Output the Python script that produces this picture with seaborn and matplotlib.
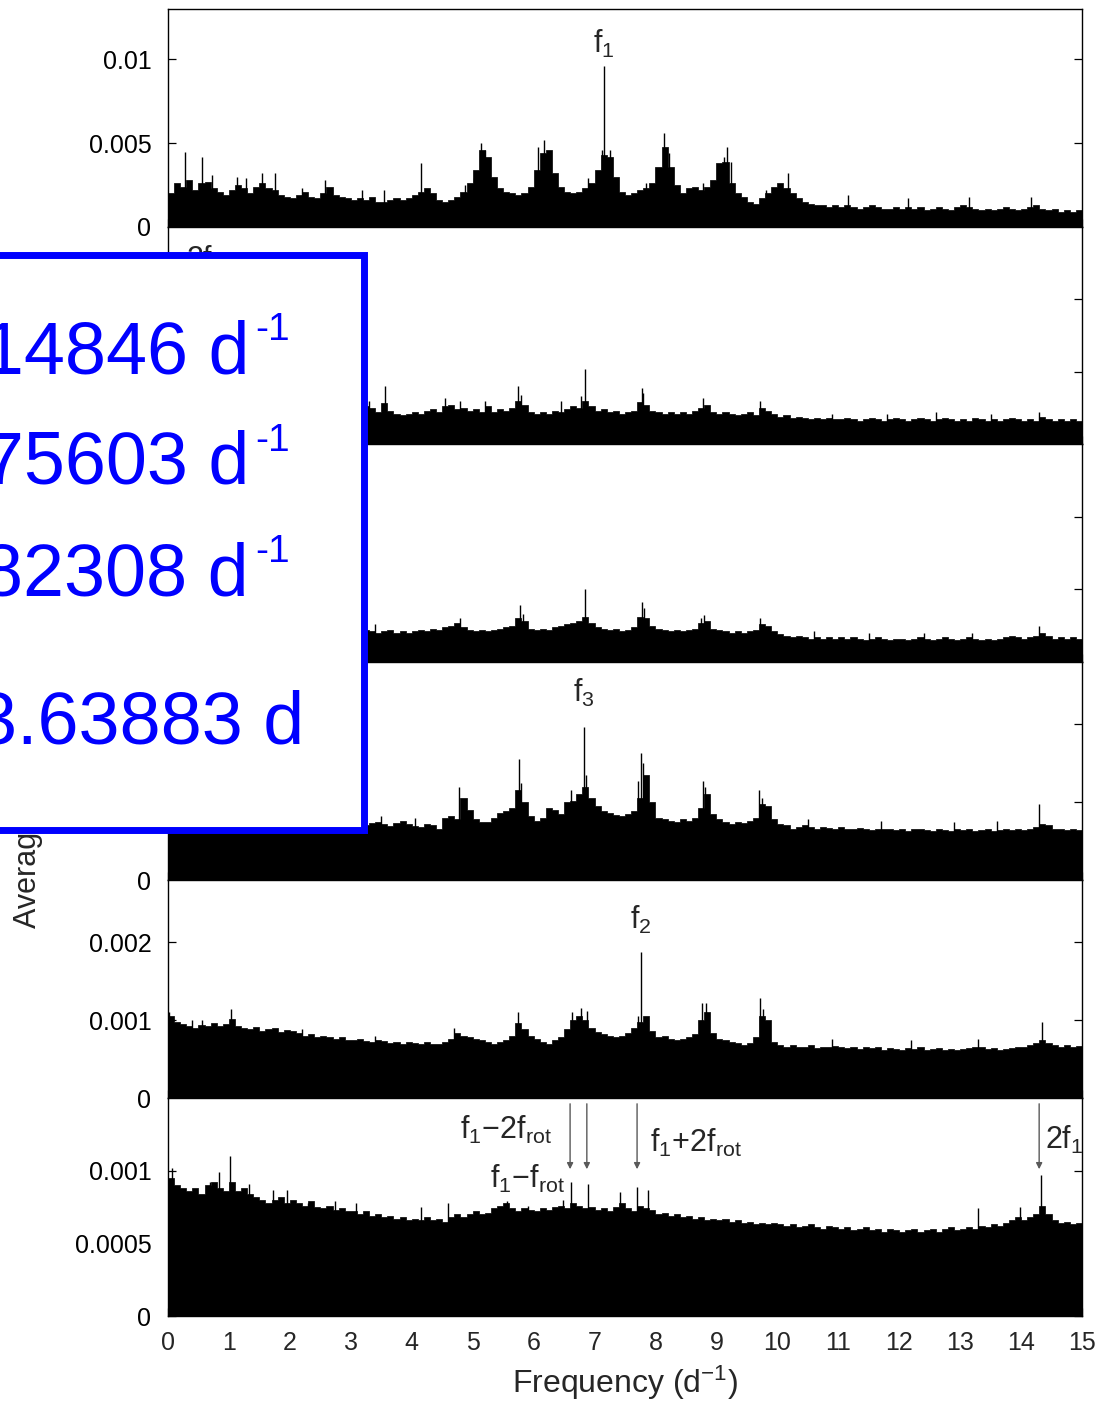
import numpy as np
import pandas as pd
import matplotlib
matplotlib.use("Agg")
import matplotlib.pyplot as plt
from matplotlib.patches import Rectangle
from matplotlib.ticker import FixedLocator, FixedFormatter
import seaborn as sns

# ---------------------------------------------------------------------------
# Spectra: amplitude per 0.1 d^-1 frequency bin (units of 1e-3), six panels
# ---------------------------------------------------------------------------
amp_p1 = [
    2.0, 2.6, 2.4, 2.8, 2.2, 2.6, 2.7, 2.3, 2.1, 1.9,
    2.2, 2.5, 2.3, 2.0, 2.4, 2.6, 2.3, 2.2, 1.9, 1.8,
    1.7, 1.9, 2.1, 1.8, 1.7, 2.0, 2.4, 1.9, 1.8, 1.7,
    1.6, 1.7, 1.6, 1.8, 1.5, 1.5, 1.6, 1.7, 1.6, 1.7,
    1.9, 2.1, 2.3, 2.0, 1.6, 1.5, 1.6, 1.8, 2.1, 2.6,
    3.4, 4.6, 4.2, 3.0, 2.3, 2.1, 2.0, 1.9, 2.0, 2.4,
    3.4, 4.4, 4.6, 3.2, 2.4, 2.1, 2.0, 2.1, 2.3, 2.6,
    3.4, 4.3, 4.2, 3.0, 2.1, 1.9, 2.0, 2.2, 2.3, 2.6,
    3.6, 4.8, 3.6, 2.5, 2.0, 2.3, 2.4, 2.2, 2.4, 2.8,
    3.8, 3.9, 2.6, 2.0, 1.8, 1.5, 1.4, 1.7, 2.0, 2.4,
    2.6, 2.3, 2.0, 1.7, 1.5, 1.4, 1.3, 1.3, 1.2, 1.3,
    1.2, 1.3, 1.2, 1.1, 1.2, 1.3, 1.2, 1.1, 1.1, 1.2,
    1.1, 1.2, 1.1, 1.2, 1.0, 1.1, 1.2, 1.1, 1.0, 1.2,
    1.3, 1.2, 1.1, 1.0, 1.1, 1.0, 1.1, 1.2, 1.1, 1.0,
    1.1, 1.2, 1.3, 1.1, 1.0, 1.1, 0.9, 1.0, 0.9, 1.0,
]
amp_p2 = [
    0.30, 0.27, 0.26, 0.25, 0.27, 0.25, 0.26, 0.24, 0.25, 0.26,
    0.25, 0.24, 0.26, 0.25, 0.24, 0.23, 0.25, 0.24, 0.23, 0.24,
    0.24, 0.23, 0.25, 0.24, 0.23, 0.22, 0.24, 0.23, 0.22, 0.23,
    0.23, 0.24, 0.26, 0.25, 0.22, 0.28, 0.23, 0.21, 0.20, 0.21,
    0.22, 0.21, 0.23, 0.24, 0.22, 0.26, 0.27, 0.24, 0.25, 0.23,
    0.24, 0.22, 0.26, 0.22, 0.24, 0.23, 0.25, 0.30, 0.27, 0.22,
    0.21, 0.22, 0.21, 0.23, 0.22, 0.24, 0.26, 0.25, 0.30, 0.26,
    0.23, 0.24, 0.22, 0.23, 0.21, 0.22, 0.23, 0.29, 0.27, 0.23,
    0.22, 0.21, 0.22, 0.21, 0.22, 0.21, 0.23, 0.25, 0.27, 0.22,
    0.21, 0.22, 0.21, 0.20, 0.21, 0.22, 0.20, 0.25, 0.23, 0.21,
    0.19, 0.20, 0.18, 0.19, 0.18, 0.17, 0.18, 0.17, 0.18, 0.17,
    0.17, 0.18, 0.17, 0.16, 0.17, 0.18, 0.17, 0.16, 0.17, 0.18,
    0.17, 0.16, 0.17, 0.18, 0.17, 0.16, 0.17, 0.18, 0.17, 0.16,
    0.17, 0.16, 0.18, 0.17, 0.16, 0.17, 0.16, 0.17, 0.18, 0.17,
    0.16, 0.17, 0.16, 0.19, 0.17, 0.16, 0.17, 0.16, 0.17, 0.16,
]
amp_p3 = [
    0.26, 0.24, 0.23, 0.22, 0.24, 0.22, 0.23, 0.21, 0.22, 0.23,
    0.22, 0.21, 0.23, 0.22, 0.21, 0.22, 0.20, 0.21, 0.22, 0.21,
    0.21, 0.22, 0.20, 0.21, 0.22, 0.20, 0.21, 0.22, 0.21, 0.20,
    0.21, 0.20, 0.22, 0.21, 0.20, 0.21, 0.22, 0.20, 0.21, 0.20,
    0.21, 0.22, 0.21, 0.23, 0.22, 0.24, 0.25, 0.27, 0.24, 0.22,
    0.21, 0.22, 0.21, 0.22, 0.23, 0.24, 0.25, 0.30, 0.28, 0.23,
    0.22, 0.23, 0.22, 0.24, 0.25, 0.26, 0.27, 0.28, 0.31, 0.27,
    0.24, 0.23, 0.22, 0.23, 0.21, 0.22, 0.24, 0.31, 0.30, 0.25,
    0.23, 0.22, 0.21, 0.22, 0.21, 0.22, 0.23, 0.27, 0.28, 0.23,
    0.22, 0.21, 0.20, 0.21, 0.20, 0.21, 0.22, 0.26, 0.25, 0.21,
    0.19, 0.18, 0.17, 0.18, 0.17, 0.16, 0.17, 0.16, 0.17, 0.16,
    0.17, 0.16, 0.17, 0.16, 0.15, 0.16, 0.17, 0.16, 0.15, 0.16,
    0.16, 0.15, 0.16, 0.17, 0.16, 0.15, 0.16, 0.17, 0.16, 0.15,
    0.16, 0.17, 0.16, 0.15, 0.16, 0.15, 0.16, 0.17, 0.18, 0.17,
    0.16, 0.17, 0.18, 0.20, 0.18, 0.16, 0.17, 0.16, 0.17, 0.16,
]
amp_p4 = [
    0.95, 0.85, 0.80, 0.78, 0.82, 0.76, 0.80, 0.78, 0.75, 0.77,
    0.80, 0.76, 0.74, 0.78, 0.75, 0.73, 0.76, 0.74, 0.72, 0.75,
    0.73, 0.75, 0.72, 0.74, 0.71, 0.73, 0.75, 0.72, 0.71, 0.74,
    0.72, 0.74, 0.71, 0.73, 0.75, 0.72, 0.70, 0.73, 0.76, 0.72,
    0.70, 0.68, 0.72, 0.71, 0.66, 0.80, 0.82, 0.78, 1.05, 0.90,
    0.78, 0.75, 0.74, 0.80, 0.86, 0.88, 0.92, 1.15, 1.00, 0.82,
    0.76, 0.80, 0.92, 0.90, 0.85, 1.00, 1.02, 1.10, 1.20, 1.05,
    0.95, 0.88, 0.86, 0.84, 0.82, 0.85, 0.88, 1.05, 1.35, 1.00,
    0.80, 0.78, 0.76, 0.74, 0.78, 0.76, 0.80, 0.92, 1.10, 0.85,
    0.78, 0.74, 0.72, 0.75, 0.73, 0.76, 0.80, 0.98, 0.95, 0.78,
    0.72, 0.70, 0.66, 0.68, 0.70, 0.68, 0.66, 0.68, 0.67, 0.66,
    0.68, 0.66, 0.65, 0.67, 0.66, 0.64, 0.66, 0.65, 0.66, 0.64,
    0.65, 0.63, 0.65, 0.66, 0.64, 0.63, 0.65, 0.64, 0.63, 0.65,
    0.64, 0.66, 0.63, 0.64, 0.65, 0.63, 0.64, 0.66, 0.64, 0.65,
    0.64, 0.66, 0.68, 0.72, 0.70, 0.66, 0.65, 0.64, 0.66, 0.64,
]
amp_p5 = [
    1.05, 0.98, 0.95, 0.92, 0.90, 0.94, 0.92, 0.96, 0.93, 0.95,
    1.02, 0.92, 0.90, 0.88, 0.91, 0.86, 0.88, 0.90, 0.85, 0.87,
    0.86, 0.84, 0.80, 0.82, 0.78, 0.80, 0.78, 0.76, 0.78, 0.75,
    0.74, 0.76, 0.73, 0.72, 0.74, 0.73, 0.71, 0.72, 0.70, 0.72,
    0.71, 0.70, 0.72, 0.70, 0.69, 0.72, 0.76, 0.84, 0.80, 0.78,
    0.76, 0.74, 0.72, 0.70, 0.72, 0.75, 0.80, 0.96, 0.88, 0.80,
    0.76, 0.72, 0.70, 0.74, 0.78, 0.88, 1.00, 1.05, 1.00, 0.90,
    0.85, 0.82, 0.80, 0.78, 0.80, 0.84, 0.90, 0.98, 1.05, 0.86,
    0.78, 0.80, 0.76, 0.74, 0.76, 0.78, 0.82, 1.00, 1.10, 0.84,
    0.76, 0.74, 0.72, 0.70, 0.68, 0.70, 0.78, 1.05, 1.00, 0.72,
    0.68, 0.66, 0.68, 0.65, 0.66, 0.68, 0.64, 0.66, 0.65, 0.67,
    0.66, 0.64, 0.66, 0.63, 0.65, 0.64, 0.66, 0.62, 0.64, 0.63,
    0.62, 0.64, 0.63, 0.65, 0.62, 0.63, 0.64, 0.62, 0.63, 0.62,
    0.63, 0.64, 0.66, 0.65, 0.63, 0.64, 0.62, 0.63, 0.64, 0.65,
    0.66, 0.68, 0.70, 0.74, 0.70, 0.68, 0.66, 0.68, 0.66, 0.67,
]
amp_p6 = [
    0.95, 0.90, 0.88, 0.86, 0.88, 0.84, 0.90, 0.92, 0.88, 0.86,
    0.92, 0.86, 0.88, 0.84, 0.82, 0.80, 0.78, 0.80, 0.82, 0.78,
    0.80, 0.78, 0.76, 0.79, 0.75, 0.74, 0.76, 0.73, 0.74, 0.72,
    0.72, 0.70, 0.72, 0.69, 0.70, 0.68, 0.69, 0.67, 0.68, 0.66,
    0.67, 0.66, 0.68, 0.66, 0.67, 0.65, 0.68, 0.70, 0.68, 0.70,
    0.72, 0.70, 0.71, 0.74, 0.76, 0.78, 0.74, 0.72, 0.74, 0.73,
    0.72, 0.74, 0.73, 0.75, 0.76, 0.74, 0.78, 0.76, 0.74, 0.75,
    0.73, 0.74, 0.72, 0.75, 0.78, 0.74, 0.72, 0.76, 0.74, 0.73,
    0.70, 0.71, 0.69, 0.70, 0.68, 0.69, 0.67, 0.68, 0.66, 0.67,
    0.66, 0.67, 0.65, 0.66, 0.64, 0.65, 0.63, 0.64, 0.63, 0.64,
    0.63, 0.62, 0.63, 0.61, 0.62, 0.63, 0.61, 0.60, 0.62, 0.61,
    0.60, 0.61, 0.59, 0.60, 0.61, 0.59, 0.60, 0.58, 0.60, 0.59,
    0.58, 0.59, 0.60, 0.58, 0.59, 0.60, 0.58, 0.60, 0.61, 0.59,
    0.60, 0.61, 0.60, 0.62, 0.61, 0.63, 0.62, 0.64, 0.66, 0.68,
    0.66, 0.68, 0.70, 0.76, 0.70, 0.66, 0.64, 0.65, 0.63, 0.64,
]

# Narrow peaks standing above the binned spectrum: frequency (d^-1), amplitude (1e-3)
spike_f_p1 = [0.28, 0.55, 0.72, 1.13, 1.28, 1.54, 1.75, 2.20, 2.58, 3.18, 3.55, 4.15,
              4.88, 5.02, 5.14, 5.20, 5.27, 6.07, 6.17, 6.24, 6.90, 7.12, 7.14846, 7.25,
              7.84, 8.04, 8.14, 8.22, 8.78, 9.02, 9.12, 9.18, 9.24, 9.81, 10.07, 10.17,
              11.16, 12.15, 13.15, 14.16]
spike_a_p1 = [4.5, 4.2, 3.1, 3.0, 2.9, 3.2, 3.2, 2.3, 2.8, 2.2, 2.2, 3.8,
              2.5, 2.9, 5.0, 4.6, 3.8, 4.8, 5.2, 3.8, 2.9, 4.6, 9.6, 4.6,
              2.6, 3.4, 5.6, 4.4, 2.6, 3.0, 4.2, 4.8, 3.9, 2.2, 2.3, 3.2,
              1.9, 1.7, 1.8, 1.8]
spike_f_p2 = [3.30, 3.56, 4.55, 4.80, 5.20, 5.75, 5.80, 6.45, 6.78, 6.84, 7.78, 7.80, 8.78, 9.72,
              10.9, 11.8, 12.6, 13.5, 14.3]
spike_a_p2 = [0.30, 0.40, 0.32, 0.30, 0.30, 0.40, 0.34, 0.30, 0.33, 0.52, 0.39, 0.35, 0.32, 0.30,
              0.21, 0.21, 0.22, 0.21, 0.22]
spike_f_p3 = [3.40, 4.80, 5.78, 5.82, 6.84, 7.78, 7.82, 8.75, 8.80, 9.72, 10.6, 11.5, 12.4, 13.2, 14.30]
spike_a_p3 = [0.26, 0.30, 0.39, 0.33, 0.50, 0.41, 0.37, 0.30, 0.32, 0.30, 0.21, 0.20, 0.20, 0.20, 0.25]
spike_f_p4 = [3.50, 4.05, 4.78, 5.76, 5.79, 6.62, 6.82308, 6.86, 7.71, 7.76, 7.80, 8.78, 8.82,
              9.70, 9.75, 10.50, 11.70, 12.90, 13.60, 14.30]
spike_a_p4 = [0.82, 0.80, 1.19, 1.55, 1.25, 1.16, 1.97, 1.35, 1.27, 1.63, 1.50, 1.27, 1.20,
              1.16, 1.05, 0.78, 0.76, 0.74, 0.76, 0.98]
spike_f_p5 = [0.02, 0.40, 0.55, 1.04, 2.20, 3.40, 4.70, 5.74, 6.63, 6.78, 6.88, 7.72, 7.75603,
              8.77, 8.83, 9.72, 9.76, 10.90, 12.20, 13.30, 14.34]
spike_a_p5 = [1.11, 1.00, 1.00, 1.14, 0.88, 0.80, 0.90, 1.10, 1.10, 1.16, 1.12, 1.05, 1.88,
              1.22, 1.22, 1.29, 1.14, 0.76, 0.74, 0.76, 0.98]
spike_f_p6 = [0.07, 0.69, 0.84, 1.02, 1.33, 1.72, 1.95, 2.30, 2.74, 3.08, 4.15, 4.60, 5.57,
              5.91, 6.49, 6.61, 6.89, 7.42, 7.70, 7.88, 13.30, 13.98, 14.32]
spike_a_p6 = [1.02, 0.92, 0.99, 1.10, 0.91, 0.87, 0.87, 0.78, 0.79, 0.78, 0.75, 0.78, 0.79,
              0.76, 0.80, 0.92, 0.91, 0.85, 0.89, 0.87, 0.74, 0.75, 0.97]

# Axis ranges, tick positions and tick labels for each panel
# (labels sitting under the summary box are left blank)
y_max = [0.013, 0.0015, 0.0015, 0.0028, 0.0028, 0.0015]
y_ticks = [
    [0, 0.005, 0.01],
    [0, 0.0005, 0.001],
    [0, 0.0005, 0.001],
    [0, 0.001, 0.002],
    [0, 0.001, 0.002],
    [0, 0.0005, 0.001],
]
y_tick_labels = [
    ["0", "0.005", "0.01"],
    ["", "", ""],
    ["", "", ""],
    ["0", "", ""],
    ["0", "0.001", "0.002"],
    ["0", "0.0005", "0.001"],
]
x_ticks = list(range(0, 16))

# Identified frequencies
f1 = 7.14846
f2 = 7.75603
f3 = 6.82308
p_rot = 3.63883
f_rot = 1.0 / p_rot

bin_edges = [round(0.1 * k, 2) for k in range(151)]
bin_centers = [round(0.1 * k + 0.05, 3) for k in range(150)]

spectra = [amp_p1, amp_p2, amp_p3, amp_p4, amp_p5, amp_p6]
spikes = [
    (spike_f_p1, spike_a_p1), (spike_f_p2, spike_a_p2), (spike_f_p3, spike_a_p3),
    (spike_f_p4, spike_a_p4), (spike_f_p5, spike_a_p5), (spike_f_p6, spike_a_p6),
]

sns.set_style("ticks")
plt.rcParams["font.family"] = ["Liberation Sans", "DejaVu Sans"]
plt.rcParams["mathtext.fontset"] = "custom"
plt.rcParams["mathtext.rm"] = "Liberation Sans"
plt.rcParams["mathtext.it"] = "Liberation Sans"
plt.rcParams["mathtext.bf"] = "Liberation Sans:bold"

W, H = 1109, 1405
fig = plt.figure(figsize=(W / 100, H / 100), dpi=100)

x_left, x_right = 168, 1082
panel_edges = [9, 227, 444, 662, 880, 1098, 1316]

axes = []
for i in range(6):
    top, bot = panel_edges[i], panel_edges[i + 1]
    ax = fig.add_axes([x_left / W, 1 - bot / H, (x_right - x_left) / W, (bot - top) / H])
    axes.append(ax)
    df = pd.DataFrame({"freq": bin_centers, "amp": [v * 1e-3 for v in spectra[i]]})
    sns.histplot(data=df, x="freq", weights="amp", bins=bin_edges, element="step",
                 fill=True, color="black", alpha=1, linewidth=0.5, ax=ax)
    sf, sa = spikes[i]
    ax.vlines(sf, 0, np.asarray(sa) * 1e-3, colors="black", linewidth=1.0)
    ax.set_xlim(0, 15)
    ax.set_ylim(0, y_max[i])
    ax.set_ylabel("")
    ax.set_xlabel("")
    ax.yaxis.set_major_locator(FixedLocator(y_ticks[i]))
    ax.yaxis.set_major_formatter(FixedFormatter(y_tick_labels[i]))
    ax.xaxis.set_major_locator(FixedLocator(x_ticks))
    ax.tick_params(axis="y", direction="in", length=6, width=0.9, right=True, left=True,
                   labelsize=18, pad=12, colors="black")
    ax.tick_params(axis="x", direction="in", length=6, width=0.9, top=False, bottom=True,
                   labelsize=18, pad=11)
    if i < 5:
        ax.tick_params(axis="x", labelbottom=False)
    for sp in ax.spines.values():
        sp.set_linewidth(1.0)
        sp.set_color("black")
        sp.set_visible(True)

# Peak labels
label_kw = dict(ha="center", va="center", fontsize=22)
axes[0].text(f1, 0.0109, r"$\mathrm{f}_1$", **label_kw)
axes[1].text(0.62, 0.00138, r"$\mathrm{2f}_{1}$", ha="center", va="top", fontsize=22)
axes[3].text(f3, 0.00240, r"$\mathrm{f}_3$", **label_kw)
axes[4].text(f2, 0.00229, r"$\mathrm{f}_2$", **label_kw)

# Combination frequencies in the bottom panel
ax6 = axes[5]
arrow_kw = dict(arrowstyle="-|>", color="0.35", lw=1.0, mutation_scale=9,
                shrinkA=0, shrinkB=0)
for fx in [f1 - 2 * f_rot, f1 - f_rot, f1 + 2 * f_rot, 2 * f1]:
    ax6.annotate("", xy=(fx, 0.00101), xytext=(fx, 0.00146), arrowprops=arrow_kw)
ax6.text(6.30, 0.00128, r"$\mathrm{f}_1\mathrm{-2f}_{\mathrm{rot}}$", ha="right", va="center", fontsize=22)
ax6.text(6.52, 0.00094, r"$\mathrm{f}_1\mathrm{-f}_{\mathrm{rot}}$", ha="right", va="center", fontsize=22)
ax6.text(7.91, 0.00119, r"$\mathrm{f}_1\mathrm{+2f}_{\mathrm{rot}}$", ha="left", va="center", fontsize=22)
ax6.text(14.39, 0.00121, r"$\mathrm{2f}_1$", ha="left", va="center", fontsize=22)
ax6.set_xlabel(r"Frequency (d$^{-1}$)", fontsize=23, labelpad=6)

fig.text(28 / W, 1 - 928 / H, "Average amplitude", rotation=90, ha="center",
         va="bottom", fontsize=22)

# Summary box with the frequency solution
box = Rectangle((-100 / W, 1 - 830 / H), (364 + 100) / W, (830 - 255) / H,
                transform=fig.transFigure, facecolor="white", edgecolor="#0000ff",
                linewidth=5, zorder=10)
fig.add_artist(box)

box_lines = [
    ("f1 = 7.14846 d", 249, 373, True),
    ("f2 = 7.75603 d", 249, 484, True),
    ("f3 = 6.82308 d", 249, 595, True),
    ("Prot = 3.63883 d", 304, 743, False),
]
for txt, xr, yb, has_exp in box_lines:
    fig.text(xr / W, 1 - yb / H, txt, ha="right", va="baseline", fontsize=53,
             color="#0000ff", zorder=11)
    if has_exp:
        fig.text((xr + 6) / W, 1 - (yb - 33) / H, "-1", ha="left", va="baseline",
                 fontsize=28, color="#0000ff", zorder=11)

fig.savefig("out.png", dpi=100)
